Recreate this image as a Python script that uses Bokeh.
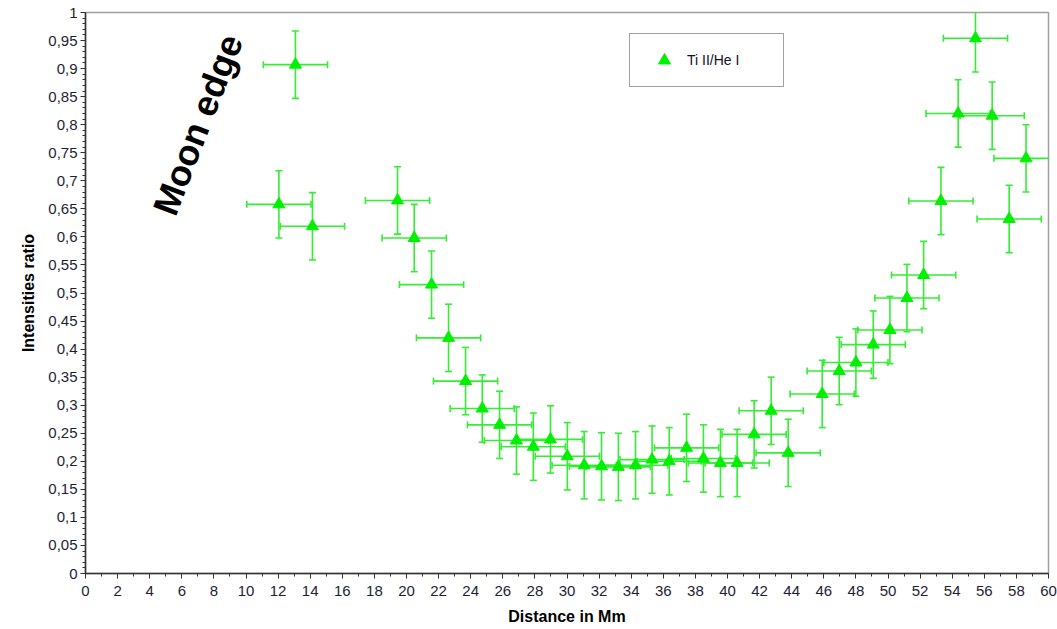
from bokeh.plotting import figure
from bokeh.models import (ColumnDataSource, Whisker, TeeHead, Legend, LegendItem,
                          FixedTicker, CustomJSTickFormatter, Label, Range1d)
from bokeh.embed import file_html
from bokeh.resources import INLINE

# ---- data ----
distance_mm = [12.05, 13.08, 14.14, 19.44, 20.48, 21.56, 22.62, 23.68, 24.72, 25.80,
               26.85, 27.90, 28.97, 30.02, 31.07, 32.15, 33.20, 34.27, 35.30, 36.37,
               37.45, 38.50, 39.56, 40.60, 41.66, 42.72, 43.78, 45.90, 46.96, 48.00,
               49.08, 50.12, 51.18, 52.22, 53.30, 54.37, 55.45, 56.49, 57.55, 58.60]
ratio = [0.658, 0.907, 0.619, 0.665, 0.598, 0.515, 0.420, 0.343, 0.294, 0.265,
         0.237, 0.226, 0.239, 0.209, 0.193, 0.191, 0.190, 0.193, 0.203, 0.200,
         0.224, 0.205, 0.197, 0.197, 0.248, 0.290, 0.215, 0.320, 0.361, 0.376,
         0.408, 0.434, 0.491, 0.532, 0.664, 0.820, 0.954, 0.816, 0.632, 0.740]
x_error = 2.0
y_error = 0.06
series_name = "Ti II/He I"
x_ticks = list(range(0, 61, 2))
y_ticks = [round(i * 0.05, 2) for i in range(0, 21)]

src = ColumnDataSource(dict(
    x=distance_mm, y=ratio,
    x_lo=[v - x_error for v in distance_mm], x_hi=[v + x_error for v in distance_mm],
    y_lo=[v - y_error for v in ratio], y_hi=[v + y_error for v in ratio],
))

p = figure(width=1057, height=629, output_backend="svg", toolbar_location=None,
           x_range=Range1d(0, 60), y_range=Range1d(0, 1),
           min_border_left=85, min_border_top=12, min_border_right=9, min_border_bottom=56)
p.background_fill_color = "white"
p.border_fill_color = "white"
p.outline_line_color = "#a0a0a0"
p.outline_line_width = 1.5
p.xgrid.visible = False
p.ygrid.visible = False

err_color = "#33ee33"
vw = Whisker(source=src, base="x", upper="y_hi", lower="y_lo", dimension="height",
             line_color=err_color, line_width=1.6,
             upper_head=TeeHead(size=7, line_color=err_color, line_width=1.6),
             lower_head=TeeHead(size=7, line_color=err_color, line_width=1.6))
hw = Whisker(source=src, base="y", upper="x_hi", lower="x_lo", dimension="width",
             line_color=err_color, line_width=1.6,
             upper_head=TeeHead(size=7, line_color=err_color, line_width=1.6),
             lower_head=TeeHead(size=7, line_color=err_color, line_width=1.6))
p.add_layout(vw)
p.add_layout(hw)

r = p.scatter("x", "y", source=src, marker="triangle", size=12,
              fill_color="#00f000", line_color="#00f000")

# axes
fmt = CustomJSTickFormatter(code="var s = (Math.round(tick*100)/100).toString(); return s.replace('.', ',');")
p.yaxis.ticker = FixedTicker(ticks=y_ticks, minor_ticks=[round(i * 0.01, 2) for i in range(0, 101)])
p.yaxis.formatter = fmt
p.xaxis.ticker = FixedTicker(ticks=x_ticks, minor_ticks=list(range(0, 61)))

for ax in (p.xaxis[0], p.yaxis[0]):
    ax.axis_line_color = "#333333"
    ax.axis_line_width = 1.5
    ax.major_tick_line_color = "#333333"
    ax.minor_tick_line_color = "#333333"
    ax.major_tick_in = 0
    ax.major_tick_out = 5
    ax.minor_tick_in = 0
    ax.minor_tick_out = 3
    ax.major_label_text_font = "Liberation Sans"
    ax.major_label_text_font_size = "15px"
    ax.major_label_text_color = "#1e1e33"
    ax.axis_label_text_font = "Liberation Sans"
    ax.axis_label_text_font_size = "16px"
    ax.axis_label_text_font_style = "bold"
    ax.axis_label_text_color = "#000000"

p.xaxis.axis_label = "Distance in Mm"
p.yaxis.axis_label = "Intensities ratio"
p.xaxis.major_label_standoff = 7
p.xaxis.axis_label_standoff = 9
p.yaxis.major_label_standoff = 3
p.yaxis.axis_label_standoff = 8

# annotation text
p.add_layout(Label(x=7.0, y=0.80, text="Moon edge", angle=69, angle_units="deg",
                   text_font="Liberation Sans", text_font_style="bold",
                   text_font_size="36px", text_color="#000000",
                   text_align="center", text_baseline="middle"))

legend = Legend(items=[LegendItem(label=series_name, renderers=[r])],
                location=(544, 486), padding=11, glyph_width=46, glyph_height=30,
                label_standoff=0, label_width=85, label_height=30, spacing=0, margin=0,
                border_line_color="#444444", border_line_width=1.5,
                background_fill_color="white", background_fill_alpha=1,
                label_text_font="Liberation Sans", label_text_font_size="14px",
                label_text_color="#111122")
p.add_layout(legend)

open("out.html", "w").write(file_html(p, INLINE))
